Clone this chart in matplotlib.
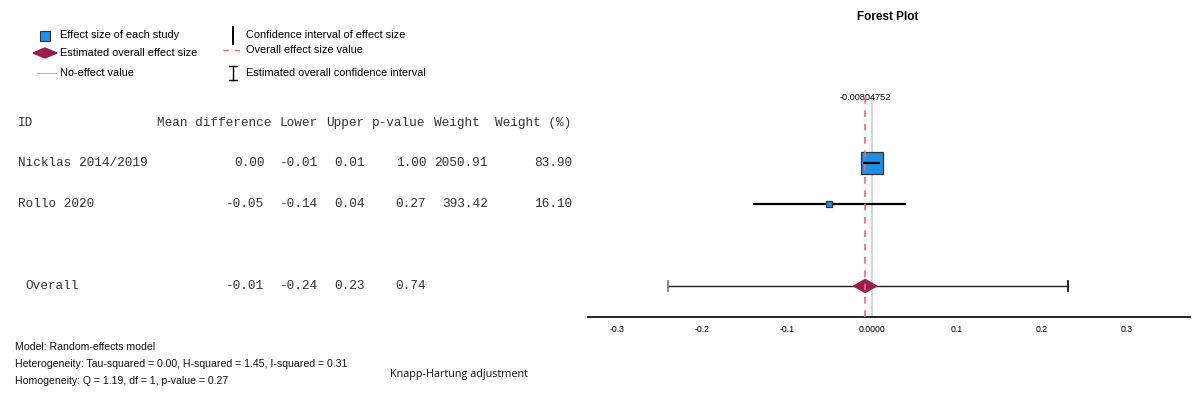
import matplotlib
matplotlib.use("Agg")
import matplotlib.pyplot as plt
from matplotlib.patches import Polygon, Rectangle
from matplotlib.lines import Line2D

# ---------------- data ----------------
study_ids = ["Nicklas 2014/2019", "Rollo 2020"]
mean_diff = [0.00, -0.05]
lower = [-0.01, -0.14]
upper = [0.01, 0.04]
p_values = [1.00, 0.27]
weights = [2050.91, 393.42]
weight_pct = [83.90, 16.10]

overall_label = "Overall"
overall_effect = -0.00804752
overall_lower = -0.24
overall_upper = 0.23
overall_p = 0.74

x_ticks = [-0.3, -0.2, -0.1, 0.0, 0.1, 0.2, 0.3]
x_tick_labels = ["-0.3", "-0.2", "-0.1", "0.0000", "0.1", "0.2", "0.3"]

headers = ["ID", "Mean difference", "Lower", "Upper", "p-value", "Weight", "Weight (%)"]

notes = ["Model: Random-effects model",
         "Heterogeneity: Tau-squared = 0.00, H-squared = 1.45, I-squared = 0.31",
         "Homogeneity: Q = 1.19, df = 1, p-value = 0.27"]
adjust_note = "Knapp-Hartung adjustment"

legend_left = ["Effect size of each study", "Estimated overall effect size", "No-effect value"]
legend_right = ["Confidence interval of effect size", "Overall effect size value",
                "Estimated overall confidence interval"]

# ---------------- figure ----------------
W, H = 1200, 398
fig = plt.figure(figsize=(W / 100, H / 100), dpi=100)
fig.patch.set_facecolor("white")

def fx(x):
    return x / W

def fy(y):
    return 1 - y / H

SANS = ["Liberation Sans", "DejaVu Sans"]
MONO = ["Liberation Mono", "DejaVu Sans Mono"]

def ptext(x, y, s, **kw):
    kw.setdefault("family", SANS)
    kw.setdefault("va", "center")
    fig.text(fx(x), fy(y), s, **kw)

# ---------------- table ----------------
pitch = 7.7
x0 = 18
col_end = [None, 32, 39, 45, 53, 61, 72]
hdr_start = [0, 18, 34, 40, 46, 54, 62]
row_y = [163, 204]
hdr_y = 123
over_y = 286
tcol = "#333333"
tfs = 9.2

for h, c in zip(headers, hdr_start):
    ptext(x0 + c * pitch, hdr_y, h, family=MONO, fontsize=tfs, color=tcol, ha="left")

for i, sid in enumerate(study_ids):
    y = row_y[i]
    ptext(x0, y, sid, family=MONO, fontsize=tfs, color=tcol, ha="left")
    vals = [mean_diff[i], lower[i], upper[i], p_values[i], weights[i], weight_pct[i]]
    for v, c in zip(vals, col_end[1:]):
        ptext(x0 + c * pitch, y, f"{v:.2f}", family=MONO, fontsize=tfs, color=tcol, ha="right")

ptext(x0 + pitch, over_y, overall_label, family=MONO, fontsize=tfs, color=tcol, ha="left")
for v, c in zip([overall_effect, overall_lower, overall_upper, overall_p], col_end[1:5]):
    ptext(x0 + c * pitch, over_y, f"{v:.2f}", family=MONO, fontsize=tfs, color=tcol, ha="right")

# ---------------- notes ----------------
for s, y in zip(notes, [347, 364, 381]):
    ptext(15, y, s, fontsize=7.6, ha="left", color="#111111",
          family=["Liberation Sans Narrow", "Liberation Sans", "DejaVu Sans"])
ptext(390, 374, adjust_note, fontsize=7.8, ha="left", color="#111111",
      family=["Open Sans", "DejaVu Sans"])

# ---------------- title ----------------
ptext(888, 17, "Forest Plot", fontsize=8.5, weight="bold", ha="center")

# ---------------- legend ----------------
blue = "#1f8fe6"
maroon = "#9a1c4f"
red = "#f26a6a"
lfs = 7.9
# blue square
fig.patches.append(Rectangle((fx(40), fy(41)), 10 / W, 10 / H, transform=fig.transFigure,
                             facecolor=blue, edgecolor="#333333", linewidth=0.8))
# diamond
fig.patches.append(Polygon([(fx(33), fy(53)), (fx(45), fy(48)), (fx(57), fy(53)), (fx(45), fy(58))],
                           closed=True, transform=fig.transFigure, facecolor=maroon, edgecolor=maroon))
# gray line
fig.lines.append(Line2D([fx(37), fx(56)], [fy(73), fy(73)], transform=fig.transFigure,
                        color="#bbbbbb", linewidth=0.8))
for s, y in zip(legend_left, [35, 53, 73]):
    ptext(60, y, s, fontsize=lfs, ha="left")
# vertical bar
fig.lines.append(Line2D([fx(233), fx(233)], [fy(27), fy(44)], transform=fig.transFigure,
                        color="black", linewidth=1.4))
# red dashes
fig.lines.append(Line2D([fx(223), fx(241)], [fy(50), fy(50)], transform=fig.transFigure,
                        color=red, linewidth=1.0, dashes=(4, 4)))
# I beam
fig.lines.append(Line2D([fx(233), fx(233)], [fy(66), fy(80)], transform=fig.transFigure,
                        color="black", linewidth=1.0))
for yy in (66, 80):
    fig.lines.append(Line2D([fx(229), fx(237)], [fy(yy), fy(yy)], transform=fig.transFigure,
                            color="black", linewidth=1.0))
for s, y in zip(legend_right, [35, 50, 73]):
    ptext(246, y, s, fontsize=lfs, ha="left")

# ---------------- forest axes ----------------
ax_left, ax_right, ax_top, ax_bottom = 588, 1190, 90, 317
ax = fig.add_axes([fx(ax_left), fy(ax_bottom), (ax_right - ax_left) / W, (ax_bottom - ax_top) / H])
ax.set_xlim(-0.334, 0.374)
row_pos = [3, 2]
over_pos = 0
ax.set_ylim(-0.756, 4.78)
ax.patch.set_alpha(0)
for s in ["top", "right", "left"]:
    ax.spines[s].set_visible(False)
ax.spines["bottom"].set_linewidth(1.2)
ax.set_yticks([])
ax.set_xticks(x_ticks)
ax.set_xticklabels(x_tick_labels, fontsize=6.3, family=SANS)
ax.tick_params(axis="x", length=0, pad=6)

# no-effect line and overall effect line
ax.axvline(0, ymin=0, ymax=0.97, color="#cccccc", linewidth=1.2, zorder=1)
ax.axvline(overall_effect, ymin=0, ymax=1.0, color=red, linewidth=1.2,
           dashes=(4, 4), zorder=4)
ax.text(overall_effect, 4.6, f"{overall_effect:.8f}", fontsize=6.6, ha="center",
        va="center", family=SANS)

# study rows
marker_sizes = [15.5, 4.3]
for i in range(len(study_ids)):
    y = row_pos[i]
    ax.plot([mean_diff[i]], [y], marker="s", markersize=marker_sizes[i], color=blue,
            markeredgecolor="#333333", markeredgewidth=0.9, zorder=3, linestyle="none")
    ax.plot([lower[i], upper[i]], [y, y], color="black", linewidth=1.6,
            zorder=5 if i == 0 else 2, solid_capstyle="butt")

# overall
ax.plot([overall_lower, overall_upper], [over_pos, over_pos], color="#222222", linewidth=1.0, zorder=2)
for xv, c in [(overall_lower, "#777777"), (overall_upper, "black")]:
    ax.plot([xv, xv], [over_pos - 0.11, over_pos + 0.11], color=c, linewidth=1.2, zorder=2)
dw, dh = 0.0135, 0.16
ax.add_patch(Polygon([(overall_effect - dw, over_pos), (overall_effect, over_pos + dh),
                      (overall_effect + dw, over_pos), (overall_effect, over_pos - dh)],
                     closed=True, facecolor=maroon, edgecolor=maroon, zorder=3))

fig.savefig("out.png", dpi=100, facecolor="white")
